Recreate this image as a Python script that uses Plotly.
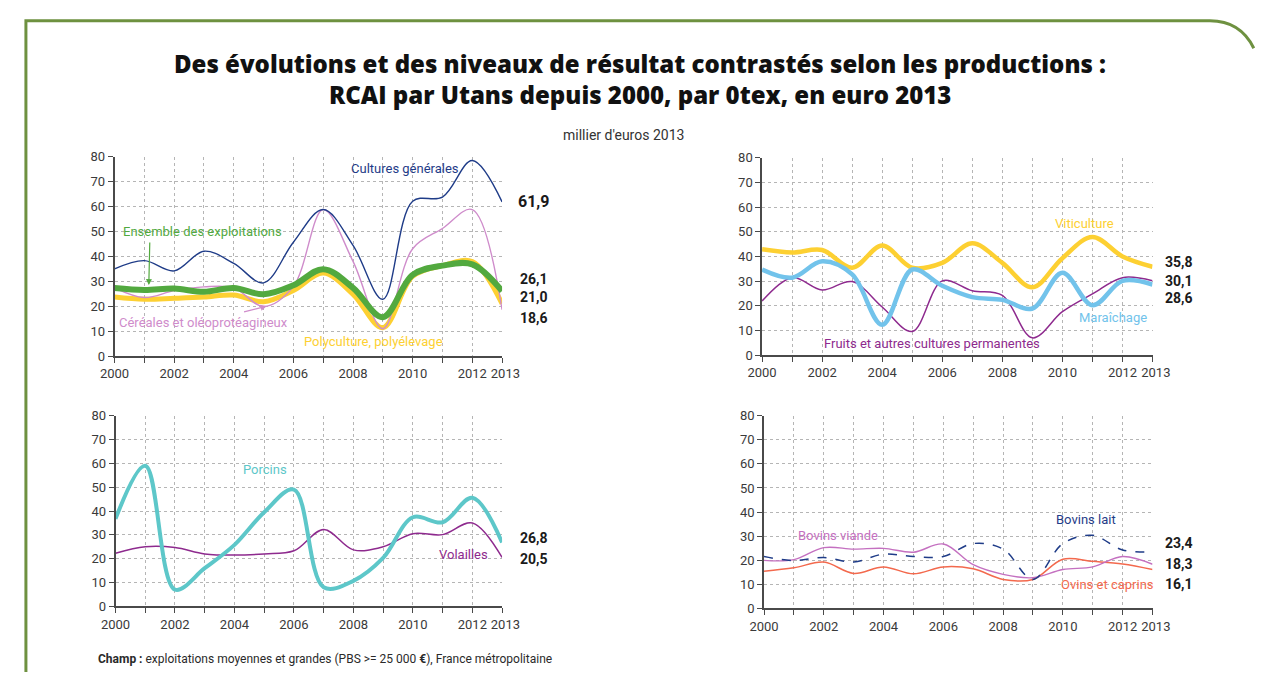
import plotly.graph_objects as go

# The page keeps the browser's default 8px body margin, so the figure is
# sized to fit exactly inside the 1272x680 window and positioned from (8, 8).
PAGE_W, PAGE_H = 1272, 680
OFF = 8
FW, FH = PAGE_W - 2 * OFF, PAGE_H - 2 * OFF

years = list(range(2000, 2014))

# Top-left panel
cultures_generales = [35.0, 38.3, 34.2, 42.1, 37.2, 29.4, 45.7, 58.8, 44.4, 22.8, 62.1, 63.8, 78.5, 61.9]
ensemble = [27.3, 26.5, 27.1, 25.8, 27.3, 24.8, 28.4, 34.9, 27.4, 15.6, 32.6, 36.3, 36.8, 26.1]
polyculture = [23.7, 22.8, 23.2, 23.7, 24.5, 21.8, 26.3, 33.3, 24.8, 11.4, 32.0, 36.3, 37.9, 21.0]
cereales = [27.4, 23.5, 26.3, 27.8, 27.4, 19.9, 28.0, 58.8, 38.0, 11.0, 43.1, 51.2, 58.8, 18.6]

# Top-right panel
viticulture = [42.9, 41.6, 42.6, 35.4, 44.4, 35.4, 37.4, 45.3, 37.4, 27.5, 39.3, 47.9, 40.0, 35.8]
maraichage = [34.7, 31.4, 38.0, 32.7, 12.3, 34.7, 28.1, 23.5, 22.4, 18.9, 33.4, 20.2, 30.1, 28.6]
fruits = [21.9, 31.4, 26.4, 29.8, 19.5, 9.6, 30.1, 26.1, 24.2, 7.0, 17.6, 24.8, 31.4, 30.1]

# Bottom-left panel
porcins = [36.7, 59.0, 7.0, 16.0, 25.8, 39.5, 49.0, 8.0, 10.7, 20.3, 37.4, 35.3, 45.6, 26.8]
volailles = [22.3, 25.0, 24.7, 22.0, 21.5, 22.0, 23.3, 32.3, 23.7, 25.0, 30.5, 30.1, 35.0, 20.5]

# Bottom-right panel
bovins_lait = [21.5, 19.8, 21.1, 19.2, 22.5, 21.5, 21.5, 26.9, 24.6, 12.0, 26.9, 30.3, 24.2, 23.4]
bovins_viande = [19.9, 20.2, 25.2, 24.6, 24.9, 23.3, 26.7, 18.1, 14.1, 12.7, 16.1, 17.2, 21.5, 18.3]
ovins_caprins = [15.4, 16.8, 19.2, 14.5, 17.2, 14.3, 17.2, 16.4, 12.0, 12.0, 20.4, 19.5, 18.4, 16.1]

x_tick_labels = ["2000", "", "2002", "", "2004", "", "2006", "", "2008", "", "2010", "", "2012", "\u20022013"]
y_ticks = [0, 10, 20, 30, 40, 50, 60, 70, 80]

NAVY = "#1f3c88"
GREEN = "#52a93f"
YELLOW = "#fdd032"
PINK = "#cf8ccb"
LBLUE = "#72c3eb"
PURPLE = "#8e2a8e"
TEAL = "#5dc7c9"
ORCHID = "#c470c0"
CORAL = "#f3694d"

LBL_FONT = "Roboto, Arial"
TICK_FONT = dict(family=LBL_FONT, size=13, color="#3a3a3a")


def P(x, y):
    """page pixel -> paper fraction"""
    return (x - OFF) / FW, 1 - (y - OFF) / FH


def xdom(a, b):
    return [P(a, 0)[0], P(b, 0)[0]]


def ydom(bottom, top):
    return [P(0, bottom)[1], P(0, top)[1]]


fig = go.Figure()


def line(xa, ya, y, color, width, dash="solid"):
    fig.add_trace(go.Scatter(
        x=years, y=y, mode="lines", xaxis=xa, yaxis=ya,
        line=dict(color=color, width=width, shape="spline", smoothing=1.0, dash=dash),
        showlegend=False, hoverinfo="skip"))


line("x", "y", polyculture, YELLOW, 5)
line("x", "y", cereales, PINK, 1.4)
line("x", "y", ensemble, GREEN, 6)
line("x", "y", cultures_generales, NAVY, 1.4)

line("x2", "y2", viticulture, YELLOW, 4.5)
line("x2", "y2", fruits, PURPLE, 1.5)
line("x2", "y2", maraichage, LBLUE, 4.5)

line("x3", "y3", volailles, PURPLE, 1.5)
line("x3", "y3", porcins, TEAL, 4)

line("x4", "y4", ovins_caprins, CORAL, 1.5)
line("x4", "y4", bovins_viande, ORCHID, 1.4)
line("x4", "y4", bovins_lait, NAVY, 1.5, dash="dash")


def xaxis(dom, anchor):
    return dict(domain=dom, anchor=anchor, range=[2000, 2013], tickvals=years, ticktext=x_tick_labels,
                tickangle=0, showline=True, linecolor="#4a4a4a", linewidth=1.5, ticks="outside", ticklen=5,
                tickcolor="#4a4a4a", tickfont=TICK_FONT, showgrid=True, gridcolor="#b5b5b5",
                griddash="dot", gridwidth=1, zeroline=False, fixedrange=True)


def yaxis(dom, anchor):
    return dict(domain=dom, anchor=anchor, range=[0, 80], tickvals=y_ticks,
                showline=True, linecolor="#4a4a4a", linewidth=1.5, ticks="outside", ticklen=5,
                tickcolor="#4a4a4a", tickfont=TICK_FONT, showgrid=True, gridcolor="#b5b5b5",
                griddash="dot", gridwidth=1, zeroline=False, fixedrange=True)


fig.update_layout(
    width=FW, height=FH, margin=dict(l=0, r=0, t=0, b=0), autosize=False,
    paper_bgcolor="white", plot_bgcolor="white",
    xaxis=xaxis(xdom(102, 500), "y"),
    yaxis=yaxis(ydom(357, 153), "x"),
    xaxis2=xaxis(xdom(767, 1168), "y2"),
    yaxis2=yaxis(ydom(356, 154), "x2"),
    xaxis3=xaxis(xdom(103, 500), "y3"),
    yaxis3=yaxis(ydom(613, 418), "x3"),
    xaxis4=xaxis(xdom(769, 1168), "y4"),
    yaxis4=yaxis(ydom(615, 418), "x4"),
)

ann = []


def text(x, y, s, color, size=13, bold=False, xanchor="center", family=LBL_FONT, weight=None):
    px, py = P(x, y)
    f = dict(family=family, size=size, color=color)
    if weight:
        f["weight"] = weight
    ann.append(dict(x=px, y=py, xref="paper", yref="paper", text=f"<b>{s}</b>" if bold else s,
                    showarrow=False, xanchor=xanchor, yanchor="middle", font=f))


# Title
title_lines = ["Des évolutions et des niveaux de résultat contrastés selon les productions :",
               "RCAI par Utans depuis 2000, par 0tex, en euro 2013"]
text(642, 58, title_lines[0], "#111", size=24, family="Open Sans", weight=800)
text(642, 89, title_lines[1], "#111", size=24, family="Open Sans", weight=800)
text(625, 131, "millier d'euros 2013", "#333", size=14)

# Top-left labels
text(400, 165, "Cultures générales", NAVY)
text(192, 229, "Ensemble des exploitations", GREEN)
text(193, 323, "Céréales et oléoprotéagineux", PINK)
text(368, 342, "Polyculture, polyélevage", YELLOW)
text(514, 199, "61,9", "#1a1a1a", size=16, bold=True, xanchor="left")
text(516, 278, "26,1", "#1a1a1a", size=14, bold=True, xanchor="left")
text(516, 297, "21,0", "#1a1a1a", size=14, bold=True, xanchor="left")
text(516, 318, "18,6", "#1a1a1a", size=14, bold=True, xanchor="left")

# Top-right labels
text(1098, 221, "Viticulture", YELLOW)
text(1127, 317, "Maraîchage", LBLUE)
text(942, 344, "Fruits et autres cultures permanentes", PURPLE)
text(1179, 261, "35,8", "#1a1a1a", size=14, bold=True, xanchor="left")
text(1179, 280, "30,1", "#1a1a1a", size=14, bold=True, xanchor="left")
text(1179, 298, "28,6", "#1a1a1a", size=14, bold=True, xanchor="left")

# Bottom-left labels
text(257, 473, "Porcins", TEAL)
text(460, 560, "Volailles", PURPLE)
text(516, 543, "26,8", "#1a1a1a", size=14, bold=True, xanchor="left")
text(516, 565, "20,5", "#1a1a1a", size=14, bold=True, xanchor="left")

# Bottom-right labels
text(845, 541, "Bovins viande", ORCHID)
text(1100, 524, "Bovins lait", NAVY)
text(1122, 591, "Ovins et caprins", CORAL)
text(1179, 548, "23,4", "#1a1a1a", size=14, bold=True, xanchor="left")
text(1179, 570, "18,3", "#1a1a1a", size=14, bold=True, xanchor="left")
text(1179, 590, "16,1", "#1a1a1a", size=14, bold=True, xanchor="left")

# Footer
px, py = P(83, 667)
ann.append(dict(x=px, y=py, xref="paper", yref="paper", xanchor="left", yanchor="middle", showarrow=False,
                text="<b>Champ :</b> exploitations moyennes et grandes (PBS &gt;= 25 000 <b>€</b>), France métropolitaine",
                font=dict(family=LBL_FONT, size=12, color="#2a2a2a")))

# Arrows
ann.append(dict(x=2001.15, y=28.5, xref="x", yref="y", ax=1, ay=-44, axref="pixel", ayref="pixel",
                text="", showarrow=True, arrowhead=2, arrowsize=1, arrowwidth=1.2, arrowcolor=GREEN))
ann.append(dict(x=2005.1, y=20.0, xref="x", yref="y", ax=-24, ay=6, axref="pixel", ayref="pixel",
                text="", showarrow=True, arrowhead=2, arrowsize=1, arrowwidth=1.2, arrowcolor=PINK))

fig.update_layout(annotations=ann)

# Frame
x0, y0 = P(11, 700)
x1, y1 = P(11, 14)
x2, _ = P(1227, 14)
xc, _ = P(1258, 14)
x3, y3 = P(1272, 42)
fig.add_shape(type="path", xref="paper", yref="paper",
              path=f"M {x0} {y0} L {x1} {y1} L {x2} {y1} Q {xc} {y1} {x3} {y3}",
              line=dict(color="#6e9140", width=3))

fig.write_html("out.html", config={"displayModeBar": False})
